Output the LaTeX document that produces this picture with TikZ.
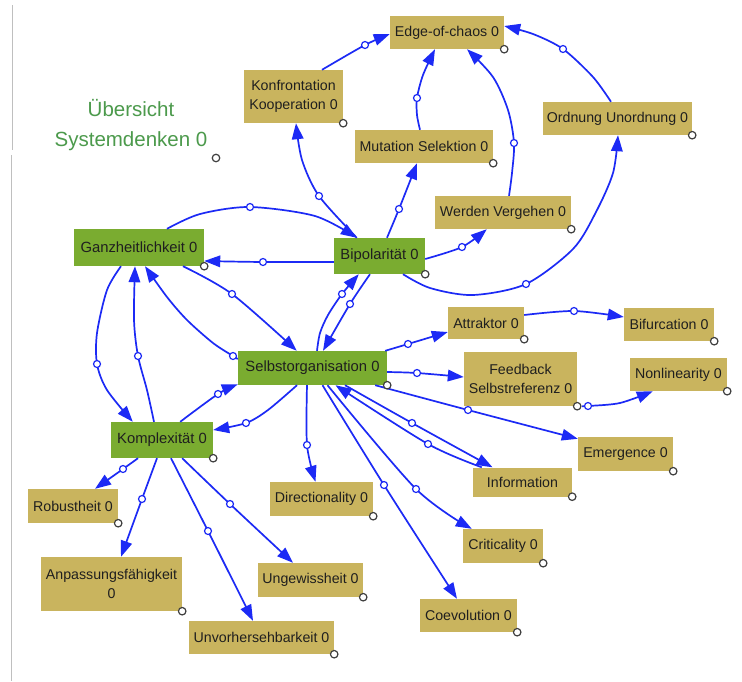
\documentclass[tikz,border=0pt]{standalone}
\usepackage{fontspec}
\setmainfont{Liberation Sans}
\usetikzlibrary{arrows.meta,calc}
\definecolor{tanc}{RGB}{201,180,94}
\definecolor{grn}{RGB}{122,172,48}
\definecolor{ttl}{RGB}{76,154,76}
\definecolor{ln}{RGB}{28,42,245}
\newcommand\cpt[4]{\coordinate (#1) at ($(#2)+(#3,#4)$);}
\begin{document}
\begin{tikzpicture}[x=1pt,y=-1pt,
  tanbox/.style={fill=tanc, inner sep=0pt, align=center, text=black!88,
    font=\fontsize{14.2}{19}\selectfont},
  grnbox/.style={fill=grn, inner sep=0pt, align=center, text=black!88,
    font=\fontsize{14.8}{18}\selectfont},
  edge/.style={draw=ln, line width=1.7pt, -{Triangle[length=16pt,width=11.5pt]}},
  midc/.style={circle, draw=ln, fill=white, line width=1.2pt, inner sep=0pt, minimum size=7pt},
  gc/.style={circle, draw=black!75, fill=white, line width=1.2pt, inner sep=0pt, minimum size=7.5pt}]
\fill[white] (0,0) rectangle (742,681);
\useasboundingbox (0,0) rectangle (742,681);
\draw[black!25, line width=0.8pt] (12,5) -- (12,150);
\draw[black!25, line width=0.8pt] (11,155) -- (11,681);

% title
\node[text=ttl, align=center, font=\fontsize{20.5}{30}\selectfont] (title) at (131,125) {Übersicht\\Systemdenken 0};

% boxes
\node[tanbox, minimum width=114pt, minimum height=33pt] (eoc) at (447,32.5) {Edge-of-chaos 0};
\node[tanbox, minimum width=99pt, minimum height=53pt] (kk) at (293.5,96.5) {Konfrontation\\Kooperation 0};
\node[tanbox, minimum width=138pt, minimum height=33pt] (ms) at (424,146.5) {Mutation Selektion 0};
\node[tanbox, minimum width=149pt, minimum height=33pt] (ou) at (617.5,118.5) {Ordnung Unordnung 0};
\node[tanbox, minimum width=136pt, minimum height=33pt] (wv) at (503,212.5) {Werden Vergehen 0};
\node[grnbox, minimum width=130pt, minimum height=37pt] (ganz) at (139,247.5) {Ganzheitlichkeit 0};
\node[grnbox, minimum width=91pt, minimum height=36pt] (bip) at (379.5,256) {Bipolarität 0};
\node[grnbox, minimum width=149pt, minimum height=34pt] (so) at (312.5,368) {Selbstorganisation 0};
\node[grnbox, minimum width=102pt, minimum height=36pt] (kom) at (162,440) {Komplexität 0};
\node[tanbox, minimum width=76pt, minimum height=32pt] (att) at (486,323) {Attraktor 0};
\node[tanbox, minimum width=90pt, minimum height=33pt] (bif) at (669,324.5) {Bifurcation 0};
\node[tanbox, minimum width=113pt, minimum height=54pt] (fb) at (520.5,379) {Feedback\\Selbstreferenz 0};
\node[tanbox, minimum width=97pt, minimum height=33pt] (nonl) at (678.5,374.5) {Nonlinearity 0};
\node[tanbox, minimum width=95pt, minimum height=34pt] (emer) at (625.5,454) {Emergence 0};
\node[tanbox, minimum width=99pt, minimum height=29pt] (info) at (522.5,482) {Information};
\node[tanbox, minimum width=90pt, minimum height=34pt] (rob) at (73,506) {Robustheit 0};
\node[tanbox, minimum width=141pt, minimum height=54pt] (anp) at (111.5,584) {Anpassungsfähigkeit\\0};
\node[tanbox, minimum width=103pt, minimum height=34pt] (dir) at (321.5,499) {Directionality 0};
\node[tanbox, minimum width=105pt, minimum height=34pt] (ungew) at (310.5,580) {Ungewissheit 0};
\node[tanbox, minimum width=145pt, minimum height=33pt] (unv) at (261.5,637.5) {Unvorhersehbarkeit 0};
\node[tanbox, minimum width=80pt, minimum height=34pt] (crit) at (503,546) {Criticality 0};
\node[tanbox, minimum width=97pt, minimum height=33pt] (coev) at (468.5,615.5) {Coevolution 0};

% endpoints
\cpt{a1}{kk.north}{28.5}{0}      \cpt{b1}{eoc.west}{0}{1.5}
\cpt{a2}{bip.north west}{23}{0}  \cpt{b2}{kk.south}{2.5}{0}
\cpt{a3}{ganz.north}{28}{0}      \cpt{b3}{bip.north west}{23}{0}
\cpt{a4}{bip.west}{0}{6}         \cpt{b4}{ganz.east}{0}{13.5}
\cpt{a5}{bip.north}{7.5}{0}      \cpt{b5}{ms.south}{-7}{0}
\cpt{a6}{ms.north}{-4}{0}        \cpt{b6}{eoc.south}{-12}{0}
\cpt{a7}{wv.north}{6}{0}         \cpt{b7}{eoc.south}{20}{0}
\cpt{a8}{bip.east}{0}{3}         \cpt{b8}{wv.south west}{52}{0}
\cpt{a9}{bip.south}{23.5}{0}     \cpt{b9}{ou.south}{0.5}{0}
\cpt{a10}{ou.north}{-6.5}{0}     \cpt{b10}{eoc.east}{0}{-6.5}
\cpt{a11}{so.north}{4.5}{0}      \cpt{b11}{bip.south west}{25}{0}
\cpt{a12}{bip.south}{-9.5}{0}    \cpt{b12}{so.north}{10.5}{0}
\cpt{a13}{ganz.south}{44}{0}     \cpt{b13}{so.north west}{59}{0}
\cpt{a14}{so.west}{0}{-9}        \cpt{b14}{ganz.south}{6}{0}
\cpt{a15}{ganz.south}{-18}{0}    \cpt{b15}{kom.north west}{22}{0}
\cpt{a16}{kom.north}{-8}{0}      \cpt{b16}{ganz.south}{-4}{0}
\cpt{a17}{kom.north east}{-33}{0} \cpt{b17}{so.south west}{0}{-1}
\cpt{a18}{so.south}{-15.5}{0}    \cpt{b18}{kom.east}{0}{-10}
\cpt{a19}{so.north east}{-2}{0}  \cpt{b19}{att.west}{0}{9}
\cpt{a20}{att.east}{0}{-8}       \cpt{b20}{bif.west}{0}{-7.5}
\cpt{a21}{so.east}{0}{4}         \cpt{b21}{fb.west}{0}{-2}
\cpt{a22}{fb.south east}{5}{0}   \cpt{b22}{nonl.south west}{23}{0}
\cpt{a23}{so.south east}{-12}{0} \cpt{b23}{emer.north west}{0}{2}
\cpt{a24}{so.south}{32.5}{0}     \cpt{b24}{info.north}{-30}{0}
\cpt{a25}{info.north west}{9}{0} \cpt{b25}{so.south}{23}{0}
\cpt{a26}{so.south}{-5.5}{0}     \cpt{b26}{dir.north}{-6}{0}
\cpt{a27}{so.south}{15}{0}       \cpt{b27}{crit.north west}{9}{0}
\cpt{a28}{so.south}{10}{0}       \cpt{b28}{coev.north}{-11.5}{0}
\cpt{a29}{kom.south}{-24}{0}     \cpt{b29}{rob.north}{22}{0}
\cpt{a30}{kom.south}{-5}{0}      \cpt{b30}{anp.north}{9.5}{0}
\cpt{a31}{kom.south}{9}{0}       \cpt{b31}{unv.north}{-8.5}{0}
\cpt{a32}{kom.south east}{-31}{0} \cpt{b32}{ungew.north}{-17.5}{0}

% connectors
\draw[edge] plot[smooth] coordinates {(a1) (365,45) (b1)};
\draw[edge] plot[smooth] coordinates {(a2) (319,196) (302,160) (b2)};
\draw[edge] plot[smooth] coordinates {(a3) (200,214) (250,207) (315,216) (b3)};
\draw[edge] plot[smooth] coordinates {(a4) (263,262) (b4)};
\draw[edge] plot[smooth] coordinates {(a5) (399,209) (b5)};
\draw[edge] plot[smooth] coordinates {(a6) (417,115) (417,98) (423,75) (b6)};
\draw[edge] plot[smooth] coordinates {(a7) (512,173) (514,143) (508,110) (493,77) (b7)};
\draw[edge] plot[smooth] coordinates {(a8) (462,247) (b8)};
\draw[edge] plot[smooth] coordinates {(a9) (430,288) (473,295) (526,284) (573,249) (596,212) (613,173) (b9)};
\draw[edge] plot[smooth] coordinates {(a10) (593,77) (563,49) (533,34) (b10)};
\draw[edge] plot[smooth] coordinates {(a11) (320,333) (328,315) (342,294) (b11)};
\draw[edge] plot[smooth] coordinates {(a12) (350,304) (b12)};
\draw[edge] plot[smooth] coordinates {(a13) (232,294) (b13)};
\draw[edge] plot[smooth] coordinates {(a14) (233,356) (213,343) (187,320) (167,297) (b14)};
\draw[edge] plot[smooth] coordinates {(a15) (107,290) (97,333) (97,364) (107,390) (b15)};
\draw[edge] plot[smooth] coordinates {(a16) (147,390) (138,356) (134,320) (b16)};
\draw[edge] plot[smooth] coordinates {(a17) (218,394) (b17)};
\draw[edge] plot[smooth] coordinates {(a18) (268,410) (246,423) (b18)};
\draw[edge] plot[smooth] coordinates {(a19) (408,344) (b19)};
\draw[edge] plot[smooth] coordinates {(a20) (574,311) (b20)};
\draw[edge] plot[smooth] coordinates {(a21) (417,373) (b21)};
\draw[edge] plot[smooth] coordinates {(a22) (588,406) (620,403) (b22)};
\draw[edge] plot[smooth] coordinates {(a23) (468,410) (b23)};
\draw[edge] plot[smooth] coordinates {(a24) (412,423) (b24)};
\draw[edge] plot[smooth] coordinates {(a25) (428,444) (b25)};
\draw[edge] plot[smooth] coordinates {(a26) (307,445) (b26)};
\draw[edge] plot[smooth] coordinates {(a27) (416,489) (b27)};
\draw[edge] plot[smooth] coordinates {(a28) (384,485) (b28)};
\draw[edge] plot[smooth] coordinates {(a29) (123,469) (b29)};
\draw[edge] plot[smooth] coordinates {(a30) (142,499) (b30)};
\draw[edge] plot[smooth] coordinates {(a31) (208,531) (b31)};
\draw[edge] plot[smooth] coordinates {(a32) (230,504) (b32)};

% mid circles
\node[midc] (m1) at (365,45) {};
\node[midc] (m2) at (319,196) {};
\node[midc] (m3) at (250,207) {};
\node[midc] (m4) at (263,262) {};
\node[midc] (m5) at (399,209) {};
\node[midc] (m6) at (417,98) {};
\node[midc] (m7) at (514,143) {};
\node[midc] (m8) at (462,247) {};
\node[midc] (m9) at (526,284) {};
\node[midc] (m10) at (563,49) {};
\node[midc] (m11) at (342,294) {};
\node[midc] (m12) at (350,304) {};
\node[midc] (m13) at (232,294) {};
\node[midc] (m14) at (233,356) {};
\node[midc] (m15) at (97,364) {};
\node[midc] (m16) at (138,356) {};
\node[midc] (m17) at (218,394) {};
\node[midc] (m18) at (246,423) {};
\node[midc] (m19) at (408,344) {};
\node[midc] (m20) at (574,311) {};
\node[midc] (m21) at (417,373) {};
\node[midc] (m22) at (588,406) {};
\node[midc] (m23) at (468,410) {};
\node[midc] (m24) at (412,423) {};
\node[midc] (m25) at (428,444) {};
\node[midc] (m26) at (307,445) {};
\node[midc] (m27) at (416,489) {};
\node[midc] (m28) at (384,485) {};
\node[midc] (m29) at (123,469) {};
\node[midc] (m30) at (142,499) {};
\node[midc] (m31) at (208,531) {};
\node[midc] (m32) at (230,504) {};

% grey corner circles
\node[gc] (gtitle) at (216,158) {};
\foreach \n in {eoc,kk,ms,ou,wv,ganz,bip,so,kom,att,bif,fb,nonl,emer,info,rob,anp,dir,ungew,unv,crit,coev}
  \node[gc] (g\n) at (\n.south east) {};
\end{tikzpicture}
\end{document}
